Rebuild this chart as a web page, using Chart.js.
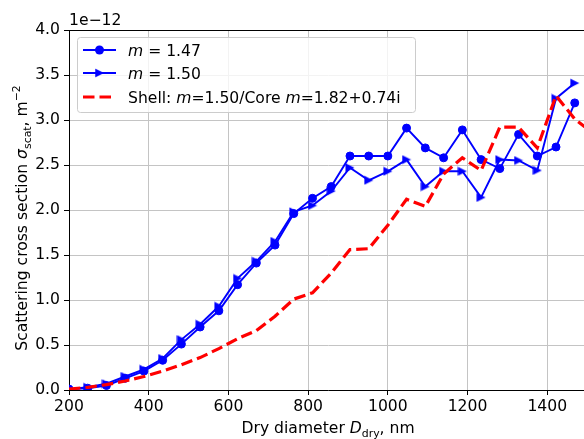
<!DOCTYPE html>
<html>
<head>
<meta charset="utf-8">
<script src="https://cdn.jsdelivr.net/npm/chart.js@4.4.1/dist/chart.umd.min.js"></script>
<style>
  html, body { margin: 0; padding: 0; background: #fff; overflow: hidden; }
  #wrap { width: 584px; height: 439px; overflow: hidden; }
</style>
</head>
<body>
<div id="wrap"><canvas id="scatChart" width="594" height="439"></canvas></div>
<script>
// dry diameters, nm
const diameters = [200, 247, 294, 341, 388, 435, 482, 529, 576, 623, 670, 717, 764, 811,
    858, 905, 952, 1000, 1047, 1094, 1140, 1187, 1234, 1281, 1328, 1375, 1422, 1469, 1516];

// scattering cross sections, units of 1e-12 m^2
const m147 = [0.01, 0.02, 0.05, 0.13, 0.21, 0.33, 0.51, 0.70, 0.88, 1.17, 1.41, 1.61, 1.96, 2.13,
    2.26, 2.60, 2.60, 2.60, 2.91, 2.69, 2.58, 2.89, 2.56, 2.46, 2.84, 2.60, 2.70, 3.19];
const m150 = [0.01, 0.03, 0.07, 0.15, 0.23, 0.35, 0.56, 0.73, 0.93, 1.24, 1.43, 1.65, 1.98, 2.05,
    2.21, 2.47, 2.33, 2.43, 2.56, 2.26, 2.43, 2.43, 2.14, 2.56, 2.55, 2.44, 3.24, 3.41];
const shell = [0.01, 0.03, 0.06, 0.10, 0.15, 0.21, 0.28, 0.36, 0.46, 0.57, 0.66, 0.82, 1.01, 1.08,
    1.30, 1.56, 1.57, 1.83, 2.12, 2.04, 2.40, 2.58, 2.44, 2.92, 2.92, 2.69, 3.27, 3.01, 2.85];

const xTicks = [200, 400, 600, 800, 1000, 1200, 1400];
const yTicks = [0.0, 0.5, 1.0, 1.5, 2.0, 2.5, 3.0, 3.5, 4.0];

const FONT = '"DejaVu Sans", sans-serif';
const FS = 15.6;
const BLUE = '#0000ff';
const RED = '#ff0000';
const AXES_RIGHT = 589; // matplotlib axes edge lies just past the 584px picture

function toPoints(vals) {
    return vals.map((v, i) => ({ x: diameters[i], y: v }));
}

// right-pointing triangle marker like matplotlib '>'
function makeTriangle(size) {
    const c = document.createElement('canvas');
    c.width = size; c.height = size;
    const g = c.getContext('2d');
    g.fillStyle = BLUE;
    g.beginPath();
    g.moveTo(size - 0.5, size / 2);
    g.lineTo(0.5, 0.5);
    g.lineTo(0.5, size - 0.5);
    g.closePath();
    g.fill();
    return c;
}
const triImg = makeTriangle(10);

// draw a run of text pieces (normal / italic / sub / sup)
function drawRuns(ctx, runs, x, y, align) {
    const fontFor = r => (r.italic ? 'italic ' : '') + (FS * (r.scale || 1)) + 'px ' + FONT;
    let total = 0;
    runs.forEach(r => { ctx.font = fontFor(r); total += ctx.measureText(r.text).width; });
    let cx = align === 'center' ? x - total / 2 : x;
    ctx.textAlign = 'left';
    ctx.textBaseline = 'alphabetic';
    runs.forEach(r => {
        ctx.font = fontFor(r);
        ctx.fillText(r.text, cx, y + (r.dy || 0));
        cx += ctx.measureText(r.text).width;
    });
}

const overlay = {
    id: 'overlay',
    afterDraw(chart) {
        const ctx = chart.ctx;
        const area = chart.chartArea;
        ctx.save();
        ctx.fillStyle = '#000';

        // top spine
        ctx.strokeStyle = '#000';
        ctx.lineWidth = 1;
        ctx.beginPath();
        ctx.moveTo(area.left, area.top + 0.5);
        ctx.lineTo(area.right, area.top + 0.5);
        ctx.stroke();

        // offset text
        drawRuns(ctx, [{ text: '1e\u221212' }], 69, 25, 'left');

        // x title
        drawRuns(ctx, [
            { text: 'Dry diameter ' },
            { text: 'D', italic: true },
            { text: 'dry', scale: 0.7, dy: 3.5 },
            { text: ', nm' }
        ], (area.left + area.right) / 2, 433, 'center');

        // y title
        ctx.save();
        ctx.translate(27, 218);
        ctx.rotate(-Math.PI / 2);
        drawRuns(ctx, [
            { text: 'Scattering cross section ' },
            { text: '\u03c3', italic: true },
            { text: 'scat', scale: 0.7, dy: 3.5 },
            { text: ', m' },
            { text: '\u22122', scale: 0.7, dy: -7 }
        ], 0, 0, 'center');
        ctx.restore();

        // legend
        const bx = 77, by = 37, bw = 338, bh = 75;
        ctx.fillStyle = 'rgba(255,255,255,0.8)';
        ctx.strokeStyle = '#cccccc';
        ctx.beginPath();
        ctx.roundRect(bx + 0.5, by + 0.5, bw, bh, 3);
        ctx.fill();
        ctx.stroke();

        const rows = [50, 73, 97];
        const lx0 = 83, lx1 = 116, mx = 99.5, tx = 128;
        // m = 1.47
        ctx.strokeStyle = BLUE; ctx.lineWidth = 1.9; ctx.setLineDash([]);
        ctx.beginPath(); ctx.moveTo(lx0, rows[0]); ctx.lineTo(lx1, rows[0]); ctx.stroke();
        ctx.fillStyle = BLUE;
        ctx.beginPath(); ctx.arc(mx, rows[0], 4.5, 0, Math.PI * 2); ctx.fill();
        // m = 1.50
        ctx.beginPath(); ctx.moveTo(lx0, rows[1]); ctx.lineTo(lx1, rows[1]); ctx.stroke();
        ctx.drawImage(triImg, mx - 5, rows[1] - 5);
        // shell
        ctx.strokeStyle = RED; ctx.lineWidth = 3.2; ctx.setLineDash([11.5, 5]);
        ctx.beginPath(); ctx.moveTo(lx0, rows[2]); ctx.lineTo(lx1, rows[2]); ctx.stroke();
        ctx.setLineDash([]);

        ctx.fillStyle = '#000';
        const base = 5.5;
        drawRuns(ctx, [{ text: 'm', italic: true }, { text: ' = 1.47' }], tx, rows[0] + base, 'left');
        drawRuns(ctx, [{ text: 'm', italic: true }, { text: ' = 1.50' }], tx, rows[1] + base, 'left');
        drawRuns(ctx, [
            { text: 'Shell: ' }, { text: 'm', italic: true }, { text: '=1.50/Core ' },
            { text: 'm', italic: true }, { text: '=1.82+0.74i' }
        ], tx, rows[2] + base, 'left');
        ctx.restore();
    }
};

const ctx = document.getElementById('scatChart').getContext('2d');
const scatChart = new Chart(ctx, {
    type: 'line',
    data: {
        datasets: [
            {
                label: 'm = 1.47',
                data: toPoints(m147),
                borderColor: BLUE,
                backgroundColor: BLUE,
                borderWidth: 1.9,
                pointStyle: 'circle',
                pointRadius: 4,
                pointBorderWidth: 1,
                pointBackgroundColor: BLUE,
                pointBorderColor: BLUE,
                tension: 0,
                clip: 0,
                order: 3
            },
            {
                label: 'm = 1.50',
                data: toPoints(m150),
                borderColor: BLUE,
                backgroundColor: BLUE,
                borderWidth: 1.9,
                pointStyle: triImg,
                pointRadius: 5,
                tension: 0,
                clip: 0,
                order: 2
            },
            {
                label: 'Shell: m=1.50/Core m=1.82+0.74i',
                data: toPoints(shell),
                borderColor: RED,
                backgroundColor: RED,
                borderWidth: 3.2,
                borderDash: [11.5, 5],
                pointRadius: 0,
                tension: 0,
                clip: 0,
                order: 1
            }
        ]
    },
    options: {
        responsive: false,
        devicePixelRatio: 1,
        animation: false,
        layout: { padding: { top: 30, right: 0, left: 0, bottom: 0 } },
        plugins: {
            legend: { display: false },
            tooltip: { enabled: false }
        },
        scales: {
            x: {
                type: 'linear',
                min: 200,
                max: 1500,
                afterFit: s => { s.height = 49; },
                afterBuildTicks: s => { s.ticks = xTicks.map(v => ({ value: v })); },
                ticks: {
                    color: '#000',
                    font: { family: FONT, size: FS },
                    padding: 3,
                    maxRotation: 0,
                    callback: v => String(v)
                },
                grid: { color: '#c4c4c4', lineWidth: 1, tickLength: 5, tickColor: '#000' },
                border: { color: '#000', width: 1 }
            },
            y: {
                min: 0,
                max: 4,
                afterFit: s => { s.width = 69; },
                afterBuildTicks: s => { s.ticks = yTicks.map(v => ({ value: v })); },
                ticks: {
                    color: '#000',
                    font: { family: FONT, size: FS },
                    padding: 4,
                    callback: v => v.toFixed(1)
                },
                grid: { color: '#c4c4c4', lineWidth: 1, tickLength: 5, tickColor: '#000' },
                border: { color: '#000', width: 1 }
            }
        }
    },
    plugins: [overlay]
});

// stretch the canvas so the plot area ends where the reference axes end
const gap = AXES_RIGHT - scatChart.chartArea.right;
if (Math.abs(gap) > 0.5) {
    scatChart.resize(scatChart.width + gap, 439);
}
</script>
</body>
</html>
